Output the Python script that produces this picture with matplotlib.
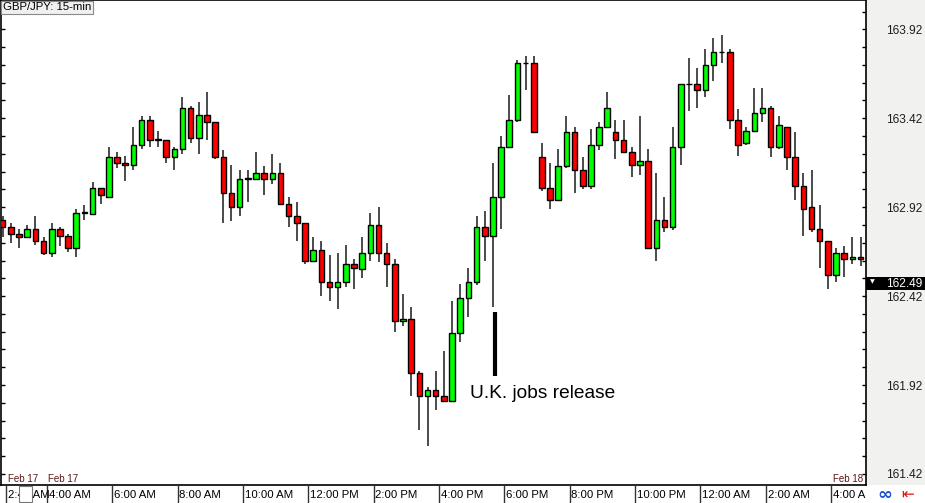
import numpy as np
import matplotlib
matplotlib.use("Agg")
import matplotlib.pyplot as plt
from matplotlib.patches import Rectangle
from matplotlib import transforms

plt.rcParams["font.family"] = ["Liberation Sans", "DejaVu Sans"]

# GBP/JPY 15-min candles, Feb 17 2:45 AM -> Feb 18 5:00 AM
opens = [162.85, 162.81, 162.77, 162.75, 162.80, 162.73, 162.66, 162.80, 162.76, 162.69,
         162.89, 162.88, 163.03, 162.98, 163.20, 163.17, 163.16, 163.27, 163.41, 163.30,
         163.30, 163.20, 163.25, 163.48, 163.31, 163.44, 163.40, 163.20, 163.00, 162.92,
         163.08, 163.08, 163.11, 163.08, 163.11, 162.94, 162.87, 162.83, 162.62, 162.68,
         162.50, 162.47, 162.50, 162.60, 162.57, 162.66, 162.82, 162.66, 162.60, 162.28,
         162.29, 161.99, 161.86, 161.89, 161.86, 161.83, 162.21, 162.41, 162.50, 162.81,
         162.76, 162.98, 163.26, 163.41, 163.73, 163.73, 163.20, 163.03, 162.96, 163.15,
         163.34, 163.13, 163.04, 163.27, 163.37, 163.34, 163.30, 163.23, 163.16, 163.18,
         162.69, 162.85, 162.81, 163.26, 163.61, 163.61, 163.58, 163.72, 163.79, 163.79,
         163.41, 163.28, 163.35, 163.45, 163.48, 163.26, 163.37, 163.20, 163.04, 162.92,
         162.80, 162.73, 162.54, 162.66, 162.63, 162.64]
highs = [162.87, 162.83, 162.80, 162.82, 162.87, 162.75, 162.83, 162.81, 162.77, 162.91,
         162.93, 163.06, 163.03, 163.26, 163.23, 163.21, 163.37, 163.43, 163.43, 163.35,
         163.30, 163.26, 163.54, 163.49, 163.51, 163.57, 163.40, 163.24, 163.16, 163.13,
         163.13, 163.23, 163.15, 163.22, 163.17, 162.98, 162.95, 162.83, 162.75, 162.73,
         162.65, 162.66, 162.71, 162.63, 162.75, 162.89, 162.92, 162.72, 162.63, 162.43,
         162.36, 162.00, 161.91, 162.00, 162.11, 162.39, 162.49, 162.58, 162.87, 162.90,
         163.17, 163.32, 163.55, 163.75, 163.77, 163.77, 163.28, 163.17, 163.25, 163.43,
         163.37, 163.20, 163.36, 163.40, 163.57, 163.41, 163.41, 163.26, 163.43, 163.25,
         163.11, 162.98, 163.37, 163.61, 163.76, 163.70, 163.81, 163.87, 163.89, 163.81,
         163.47, 163.37, 163.59, 163.59, 163.49, 163.43, 163.37, 163.34, 163.11, 163.13,
         162.93, 162.73, 162.69, 162.70, 162.75, 162.75]
lows = [162.75, 162.72, 162.69, 162.75, 162.71, 162.65, 162.64, 162.70, 162.67, 162.64,
        162.85, 162.88, 162.94, 162.98, 163.14, 163.07, 163.13, 163.25, 163.26, 163.26,
        163.17, 163.13, 163.22, 163.28, 163.22, 163.30, 163.19, 162.83, 162.84, 162.87,
        162.95, 163.08, 162.99, 163.05, 162.93, 162.81, 162.73, 162.60, 162.62, 162.42,
        162.39, 162.35, 162.47, 162.46, 162.52, 162.62, 162.61, 162.47, 162.22, 162.25,
        161.86, 161.67, 161.58, 161.78, 161.83, 161.83, 162.16, 162.30, 162.48, 162.62,
        162.36, 162.80, 163.26, 163.40, 163.58, 163.34, 163.01, 162.91, 162.96, 163.14,
        163.00, 163.02, 163.02, 163.24, 163.37, 163.19, 163.23, 163.09, 163.10, 162.69,
        162.62, 162.78, 162.79, 163.16, 163.46, 163.48, 163.54, 163.63, 163.73, 163.36,
        163.21, 163.27, 163.34, 163.40, 163.20, 163.25, 163.13, 162.96, 162.76, 162.78,
        162.58, 162.46, 162.50, 162.53, 162.60, 162.59]
closes = [162.81, 162.77, 162.75, 162.80, 162.73, 162.66, 162.80, 162.76, 162.69, 162.89,
          162.89, 163.03, 162.99, 163.20, 163.17, 163.16, 163.27, 163.41, 163.30, 163.30,
          163.20, 163.25, 163.48, 163.31, 163.44, 163.40, 163.20, 163.00, 162.92, 163.08,
          163.08, 163.11, 163.08, 163.11, 162.94, 162.87, 162.83, 162.62, 162.68, 162.50,
          162.47, 162.50, 162.60, 162.58, 162.66, 162.82, 162.66, 162.60, 162.28, 162.29,
          161.99, 161.86, 161.89, 161.86, 161.83, 162.21, 162.41, 162.50, 162.81, 162.76,
          162.98, 163.26, 163.41, 163.73, 163.73, 163.34, 163.03, 162.96, 163.15, 163.34,
          163.13, 163.04, 163.27, 163.37, 163.48, 163.30, 163.23, 163.16, 163.18, 162.69,
          162.85, 162.81, 163.26, 163.61, 163.61, 163.58, 163.72, 163.79, 163.79, 163.41,
          163.27, 163.35, 163.45, 163.48, 163.26, 163.38, 163.20, 163.04, 162.91, 162.80,
          162.73, 162.54, 162.66, 162.63, 162.64, 162.63]

time_labels = ["2:45 AM", "4:00 AM", "6:00 AM", "8:00 AM", "10:00 AM", "12:00 PM", "2:00 PM",
               "4:00 PM", "6:00 PM", "8:00 PM", "10:00 PM", "12:00 AM", "2:00 AM", "4:00 AM"]
time_idx = [0, 5, 13, 21, 29, 37, 45, 53, 61, 69, 77, 85, 93, 101]
date_labels = ["Feb 17", "Feb 17", "Feb 18"]
date_idx = [0, 5, 101]
price_labels = [161.42, 161.92, 162.42, 162.92, 163.42, 163.92]
last_price = 162.49
event_idx = 60
event_text = "U.K. jobs release"

W, H = 925, 503
fig = plt.figure(figsize=(W / 100, H / 100), dpi=100)
fig.patch.set_facecolor("white")

# right price panel background
fig.patches.append(Rectangle((866 / W, 18 / H), 59 / W, 485 / H, transform=fig.transFigure,
                             facecolor="#f1f1ef", edgecolor="none", zorder=-5))

ax = fig.add_axes([1 / W, 18 / H, 865 / W, 485 / H])
ax.set_facecolor("white")

o = np.array(opens)
h = np.array(highs)
l = np.array(lows)
c = np.array(closes)
x = np.arange(len(o))
bull = c >= o
body_bot = np.minimum(o, c)
body_h = np.maximum(np.abs(c - o), 0.002)
colors = np.where(bull, "#00ff00", "#ff0000")

ax.vlines(x, l, h, color="#1a1a1a", lw=1.1, zorder=2)
ax.bar(x, body_h, 0.68, body_bot, color=colors, edgecolor="black", lw=1.0, zorder=3)

ax.set_xlim(-0.21, 105.67)
ax.set_ylim(161.358, 164.085)

# y axis: ticks in on both sides, labels on right
ax.yaxis.tick_right()
ax.set_yticks(price_labels)
ax.set_yticks(np.round(np.arange(161.42, 164.05, 0.1), 2), minor=True)
ax.set_yticklabels([f"{p:.2f}" for p in price_labels])
ax.tick_params(axis="y", which="both", direction="in", length=3, width=1, color="black",
               left=True, right=True, labelleft=False, labelright=True,
               labelsize=8.6, labelcolor="#1e1e1e", pad=14.5)
ax.set_xticks([])
for s in ax.spines.values():
    s.set_color("black")
    s.set_linewidth(1.2)

# date labels in the lower left / right of the plot
for d, i in zip(date_labels, date_idx):
    ax.text(i + 0.6, 161.365, d, fontsize=7, color="#5a1414", ha="left", va="bottom",
            clip_on=True, zorder=5)

# current price box on the right scale
blend = transforms.blended_transform_factory(ax.transAxes, ax.transData)
ax.add_patch(Rectangle((1.0, last_price - 0.036), 59 / 865, 0.072, transform=blend,
                       facecolor="black", edgecolor="none", clip_on=False, zorder=6))
ax.text(1.0 + 20.5 / 865, last_price, f"{last_price:.2f}", transform=blend, color="white",
        fontsize=8.6, ha="left", va="center", clip_on=False, zorder=7)
ax.text(1.0 + 4 / 865, last_price + 0.008, "\u25bc", transform=blend, color="white",
        fontsize=4.5, ha="left", va="center", clip_on=False, zorder=7,
        family=["DejaVu Sans"])

# event annotation
ax.plot([event_idx + 0.25, event_idx + 0.25], [l[event_idx] - 0.03, l[event_idx] - 0.39],
        color="black", lw=3, solid_capstyle="butt", zorder=4)
ax.text(event_idx - 2.85, l[event_idx] - 0.485, event_text, fontsize=13.8, color="black",
        ha="left", va="center", zorder=4)

# title box
fig.text(3 / W, 1 - 7.5 / H, "GBP/JPY: 15-min", fontsize=8.2, color="black", ha="left",
         va="center", bbox=dict(boxstyle="square,pad=0.15", facecolor="#f0f0f0",
                                edgecolor="#8a8a8a", lw=0.8))

# time axis band
axb = fig.add_axes([1 / W, 0, 865 / W, 18 / H])
axb.set_xlim(ax.get_xlim())
axb.set_ylim(0, 1)
axb.axis("off")
axb.vlines(np.array(time_idx) + 0.4, 0, 1, color="#333333", lw=1)
for t, i in zip(time_labels, time_idx):
    axb.text(i + 0.62, 0.45, t, fontsize=8.2, color="black", ha="left", va="center",
             clip_on=True)
axb.add_patch(Rectangle((2.0, 0.06), 1.6, 0.9, facecolor="white", edgecolor="#777777",
                        lw=0.8, zorder=5))

# small toolbar icons bottom right
fig.text(885 / W, 8.5 / H, "\u221e", fontsize=13, color="#1a4fd0", ha="center",
         va="center", family=["DejaVu Sans"], fontweight="bold")
fig.text(908 / W, 8.5 / H, "\u21e4", fontsize=11, color="#e01010", ha="center",
         va="center", family=["DejaVu Sans"])

fig.savefig("out.png", dpi=100)
